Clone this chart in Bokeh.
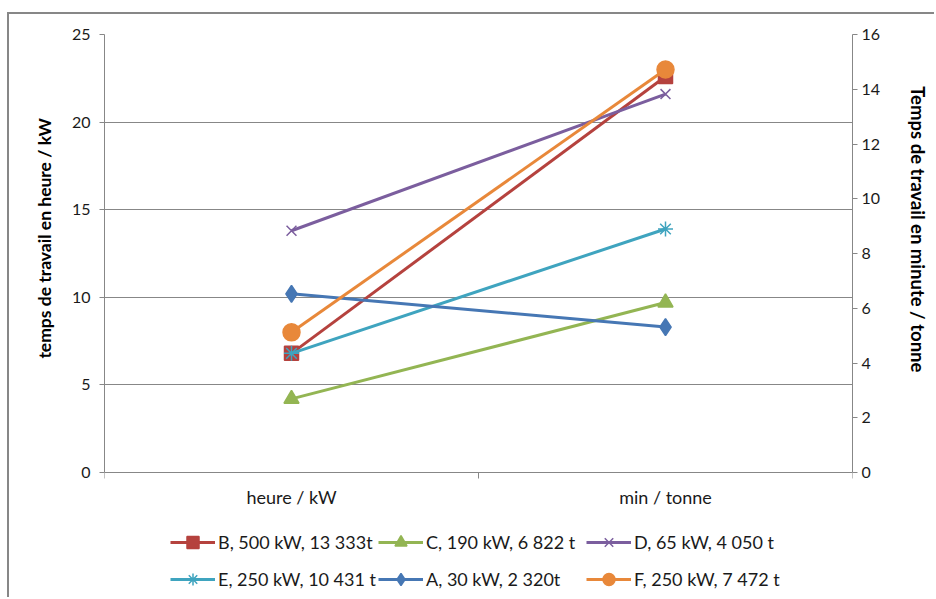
from bokeh.plotting import figure
from bokeh.models import Range1d, LinearAxis, FixedTicker, Legend, LegendItem
from bokeh.core.properties import value
from bokeh.embed import file_html
from bokeh.resources import INLINE

# --- data -------------------------------------------------------------
categories = ["heure / kW", "min / tonne"]
series_names = [
    "B, 500 kW, 13 333t",
    "C, 190 kW, 6 822 t",
    "D, 65 kW, 4 050 t",
    "E, 250 kW, 10 431 t",
    "A, 30 kW, 2 320t",
    "F, 250 kW, 7 472 t",
]
heure_kw = [6.8, 4.2, 13.8, 6.8, 10.2, 8.0]
min_tonne = [22.6, 9.7, 21.6, 13.9, 8.3, 23.0]
left_ticks = [0, 5, 10, 15, 20, 25]
right_ticks = [0, 2, 4, 6, 8, 10, 12, 14, 16]
LEFT_MAX, RIGHT_MAX = 25, 16
left_title = "temps de travail en heure / kW"
right_title = "Temps de travail en minute / tonne"

# --- style -------------------------------------------------------------
colors = ["#B5423E", "#93B553", "#7B5E9E", "#3FA4BF", "#4677B4", "#E8883A"]
markers = ["square", "triangle", "x", "asterisk", "diamond", "circle"]
marker_sizes = [14, 15, 14, 15, 17, 17]
FONT = "Lato"
AXIS_GRAY = "#878787"
TEXT = "#1a1a1a"

# layout (pixels): value area height, and the strip below it holding the
# category names and the key, all drawn inside one frame
CHART_PX = 438
BELOW_PX = 127
left_per_px = LEFT_MAX / CHART_PX
right_per_px = RIGHT_MAX / CHART_PX

# axis titles are centred on the whole frame; non-breaking padding on the
# lower end lifts them up to the middle of the value area
NBSP = "\u00a0"
LEFT_PAD, RIGHT_PAD = 37, 39

n_cat = len(categories)
x_pos = [i + 0.5 for i in range(n_cat)]
x_bounds = list(range(n_cat + 1))

p = figure(
    width=927, height=585,
    x_range=Range1d(0, n_cat),
    y_range=Range1d(-BELOW_PX * left_per_px, LEFT_MAX),
    output_backend="svg", toolbar_location=None,
    x_axis_location=None,
    min_border_left=95, min_border_right=84,
    min_border_top=20, min_border_bottom=0,
)
p.outline_line_color = None
p.background_fill_color = "white"
p.border_fill_color = "white"
p.styles = {
    "border-left": f"2px solid {AXIS_GRAY}",
    "border-top": f"2px solid {AXIS_GRAY}",
    "margin-left": "7px",
    "margin-top": "12px",
}

# secondary scale on the right, aligned with the left one
p.extra_y_ranges = {"right": Range1d(-BELOW_PX * right_per_px, RIGHT_MAX)}

# --- vertical axes --------------------------------------------------------
ya = p.yaxis[0]
ya.ticker = FixedTicker(ticks=left_ticks)
ya.bounds = (0, LEFT_MAX)
ya.minor_tick_line_color = None
ya.major_tick_out = 5
ya.major_tick_in = 0
ya.major_tick_line_color = AXIS_GRAY
ya.axis_line_color = AXIS_GRAY
ya.major_label_standoff = 9
ya.major_label_text_font = FONT
ya.major_label_text_font_size = "16px"
ya.major_label_text_color = TEXT
ya.axis_label = NBSP * LEFT_PAD + left_title
ya.axis_label_text_font = FONT
ya.axis_label_text_font_style = "bold"
ya.axis_label_text_font_size = "17.5px"
ya.axis_label_text_color = "#000000"
ya.axis_label_standoff = 14

ra = LinearAxis(y_range_name="right", ticker=FixedTicker(ticks=right_ticks))
ra.bounds = (0, RIGHT_MAX)
ra.minor_tick_line_color = None
ra.major_tick_out = 5
ra.major_tick_in = 0
ra.major_tick_line_color = AXIS_GRAY
ra.axis_line_color = AXIS_GRAY
ra.major_label_standoff = 4
ra.major_label_text_font = FONT
ra.major_label_text_font_size = "16px"
ra.major_label_text_color = TEXT
ra.axis_label = right_title + NBSP * RIGHT_PAD
ra.axis_label_text_font = FONT
ra.axis_label_text_font_style = "bold"
ra.axis_label_text_font_size = "18.5px"
ra.axis_label_text_color = "#000000"
ra.axis_label_standoff = 24
p.add_layout(ra, "right")

p.xgrid.visible = False
p.ygrid.ticker = FixedTicker(ticks=left_ticks)
p.ygrid.grid_line_color = AXIS_GRAY
p.ygrid.grid_line_width = 1

# --- category axis (baseline is the 0 grid line) ------------------------
tick_len = 6 * left_per_px
p.segment(x0=x_bounds, y0=[0] * len(x_bounds),
          x1=x_bounds, y1=[-tick_len] * len(x_bounds),
          line_color=AXIS_GRAY, line_width=1)
label_y = -24 * left_per_px
p.text(x=x_pos, y=[label_y] * n_cat, text=categories,
       text_font=value(FONT), text_font_size="18px",
       text_align="center", text_baseline="middle", text_color=TEXT)

# --- series -------------------------------------------------------------
items = []
for name, h, m, c, mk, sz in zip(series_names, heure_kw, min_tonne,
                                 colors, markers, marker_sizes):
    ys = [h, m]
    ln = p.line(x_pos, ys, line_color=c, line_width=3)
    sc = p.scatter(x_pos, ys, marker=mk, size=sz, fill_color=c,
                   line_color=c, line_width=1.5)
    items.append(LegendItem(label=name, renderers=[ln, sc]))


def key_row(row_items, offset):
    return Legend(
        items=row_items,
        orientation="horizontal",
        location=offset,
        border_line_color=None,
        background_fill_alpha=0,
        glyph_width=45,
        glyph_height=30,
        label_standoff=3,
        label_height=30,
        label_width=160,
        spacing=0,
        padding=0,
        margin=0,
        label_text_font=FONT,
        label_text_font_size="18px",
        label_text_color=TEXT,
    )


p.add_layout(key_row(items[:3], (66, 42)))
p.add_layout(key_row(items[3:], (66, 5)))

open("out.html", "w").write(file_html(p, INLINE))
